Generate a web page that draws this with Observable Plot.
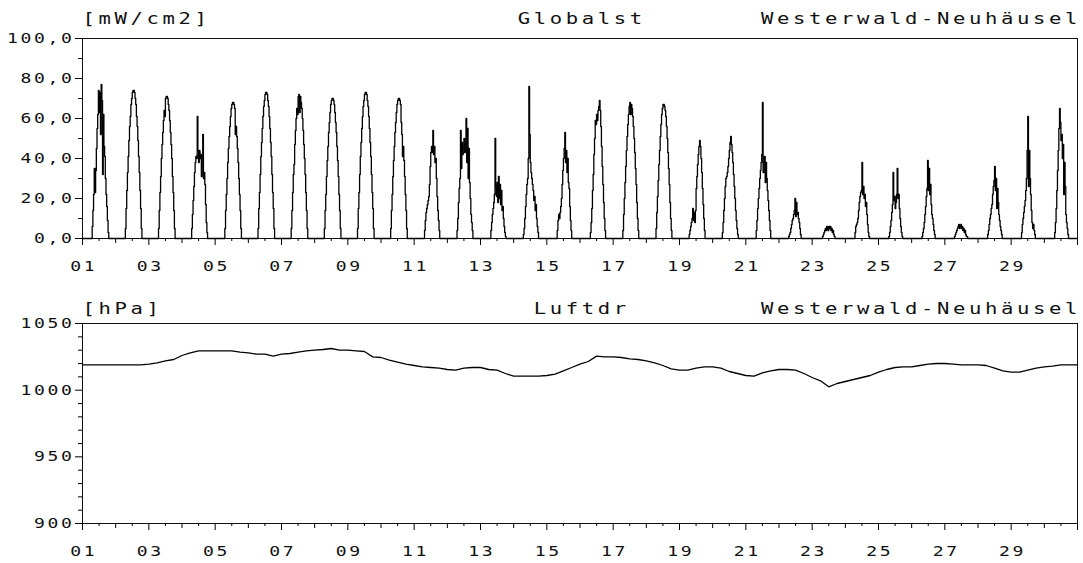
<!DOCTYPE html>
<html>
<head>
<meta charset="utf-8">
<script src="https://cdn.jsdelivr.net/npm/d3@7"></script>
<script src="https://cdn.jsdelivr.net/npm/@observablehq/plot@0.6"></script>
<style>
  html, body { margin: 0; padding: 0; background: #fff; }
  #chart svg { display: block; }
  #chart text { font-family: "DejaVu Sans Mono", "Liberation Mono", monospace; fill: #111; }
  #chart g[aria-label="x-axis tick label"] text,
  #chart g[aria-label="y-axis tick label"] text { font-size: 14.5px; letter-spacing: 2.1px; }
  #chart g[aria-label="text"] text { font-size: 16.5px; letter-spacing: 2.9px; }
</style>
</head>
<body>
<div id="chart"></div>
<script>
// ---------- texts ----------
const station = "Westerwald-Neuhäusel";
const radiationTitle = "Globalst";
const radiationUnit = "[mW/cm2]";
const pressureTitle = "Luftdr";
const pressureUnit = "[hPa]";

// ---------- x axis (days of month) ----------
const dayLabels = ["01","03","05","07","09","11","13","15","17","19","21","23","25","27","29"];
const monthDays = 30;

// ---------- y axes ----------
const radiationTicks = [0, 20, 40, 60, 80, 100];
const radiationMinorTicks = [10, 30, 50, 70, 90];
const pressureTicks = [900, 950, 1000, 1050];
const pressureMinorTicks = [910, 920, 930, 940, 960, 970, 980, 990, 1010, 1020, 1030, 1040];

// ---------- global radiation [mW/cm2], half-hourly 06:30 ... 18:30, one row per day ----------
const radiationFirstHour = 6.5;
const radiationStepHours = 0.5;
const radiation = [
  [0,6,14,22,35,23,34,45,55,62,74,63,73,52,77,69,32,62,46,41,30,22,16,9,3],      // 01
  [0,5,15,24,33,41,49,56,61,67,70,73,74,74,73,70,67,61,56,49,41,33,24,15,5],     // 02
  [0,5,14,23,31,40,47,53,59,64,61,70,71,71,70,67,64,59,53,47,40,31,23,14,5],     // 03
  [0,5,12,19,26,33,38,41,40,61,44,38,44,40,42,31,41,52,30,33,27,17,8,3,0],       // 04
  [0,5,14,22,30,38,45,51,56,61,65,67,68,68,67,65,52,56,51,45,38,30,22,14,5],     // 05
  [0,5,15,23,32,41,48,55,61,66,69,72,73,73,72,69,66,61,55,48,41,32,23,15,5],     // 06
  [0,5,14,23,32,37,47,54,60,65,62,71,72,63,71,68,65,60,54,47,40,32,23,14,5],     // 07
  [0,5,14,22,31,39,46,53,58,63,67,69,70,70,69,67,63,58,53,46,39,31,22,14,5],     // 08
  [0,5,15,23,32,41,48,55,61,66,69,72,73,73,72,69,66,61,55,48,41,32,23,15,5],     // 09
  [0,5,14,22,31,39,46,53,58,63,67,69,70,70,69,67,58,52,41,46,39,31,22,14,5],     // 10
  [0,0,4,9,13,15,17,19,21,27,36,43,46,43,54,42,46,38,40,30,21,14,9,4,0],         // 11
  [0,4,10,18,25,30,54,35,48,42,45,50,43,47,60,38,55,30,45,28,20,12,8,4,0],       // 12
  [0,0,4,8,12,15,18,22,50,26,21,28,18,31,20,27,17,24,14,16,10,6,3,1,0],          // 13
  [0,2,5,10,16,22,27,30,40,76,52,38,33,30,27,24,19,21,14,17,10,6,3,0,0],         // 14
  [0,0,4,9,12,10,13,16,20,27,34,40,45,53,38,44,33,40,28,25,16,9,4,0,0],          // 15
  [0,0,3,8,15,24,32,42,50,59,57,62,59,64,66,69,64,56,46,36,27,18,10,4,0],        // 16
  [0,4,12,20,28,36,44,51,57,62,66,68,62,67,65,61,56,50,43,35,27,18,10,4,0],      // 17
  [0,5,13,21,29,37,44,51,57,62,65,67,67,66,64,61,56,50,43,35,27,18,10,4,0],      // 18
  [0,2,4,6,8,10,15,9,13,8,14,25,31,37,42,46,49,46,40,33,25,17,10,4,0],           // 19
  [0,3,8,14,20,26,30,31,33,36,40,44,48,51,47,43,38,32,26,20,14,9,5,2,0],         // 20
  [0,0,4,9,15,20,25,30,34,38,42,68,33,38,41,28,38,30,24,19,14,9,4,0,0],          // 21
  [0,1,2,3,5,7,9,10,12,14,20,11,18,12,13,10,8,5,2,0,0,0,0,0,0],                  // 22
  [0,0,1,2,3,4,5,4,6,5,4,6,5,6,4,5,3,4,2,1,0,0,0,0,0],                           // 23
  [0,3,6,7,8,10,14,18,21,23,24,38,22,26,20,22,16,18,12,7,3,1,0,0,0],             // 24
  [0,0,1,3,6,9,13,17,33,19,21,15,18,22,35,20,22,15,10,6,3,1,0,0,0],              // 25
  [0,0,1,3,5,8,12,16,21,25,39,24,35,22,27,17,12,10,7,4,2,0,0,0,0],               // 26
  [0,1,2,3,4,5,6,7,5,6,7,5,6,4,5,3,4,2,1,1,0,0,0,0,0],                           // 27
  [0,2,4,7,10,12,15,17,22,26,29,36,24,30,15,25,18,12,9,6,4,2,0,0,0],             // 28
  [0,0,3,7,10,13,16,19,24,30,44,61,26,44,30,22,14,8,5,7,4,2,0,0,0],              // 29
  [0,0,3,8,15,24,34,44,55,65,58,49,52,40,47,22,38,26,12,8,5,2,0,0,0]             // 30
];

// ---------- air pressure [hPa], every 6 hours from day 01 00:00 ----------
const pressureStepDays = 0.25;
const pressure = [
  1019,1019,1019,1019,1019,1019,1019,1019,
  1019.5,1020.5,1022,1023, 1026,1028,1029.5,1029.5, 1029.5,1029.5,1029.5,1028.5,
  1028,1027,1027,1025.5, 1027,1027.5,1028.5,1029.5, 1030,1030.5,1031.25,1030,
  1030,1029.5,1029,1025, 1024.5,1022.5,1021,1019.5, 1018.5,1017.5,1017,1016.5,
  1015.5,1015,1016.5,1017, 1017,1015.5,1015,1012.5, 1010.5,1010.5,1010.5,1010.5,
  1011,1012,1014.5,1017, 1019.5,1021.5,1025.5,1025, 1025,1024.5,1023.5,1023,
  1022,1020.5,1018.5,1016, 1015,1015,1016.5,1017.5, 1017.5,1016.5,1014,1012.5,
  1011,1010.5,1013,1014.5, 1015.5,1015.5,1015,1012.5, 1009.5,1007,1002.5,1005,
  1006.5,1008,1009.5,1011, 1013.5,1015.5,1017,1017.5, 1017.5,1018.5,1019.5,1020,
  1020,1019.5,1019,1019, 1019,1018.5,1016.5,1014.5, 1013.5,1013.5,1015,1016.5,
  1017.5,1018,1019,1019, 1019
];

// ---------- build tables ----------
const radiationRows = [{t: 0, v: 0}];
radiation.forEach((dayValues, d) => {
  dayValues.forEach((v, i) => {
    radiationRows.push({t: d + (radiationFirstHour + i * radiationStepHours) / 24, v});
  });
  radiationRows.push({t: d + (radiationFirstHour + dayValues.length * radiationStepHours) / 24, v: 0});
});
radiationRows.push({t: monthDays, v: 0});

const pressureRows = pressure.map((v, i) => ({t: i * pressureStepDays, v}));

const labelDays = dayLabels.map(s => +s - 1);
const majorDays = [...labelDays, monthDays];
const evenDays = d3.range(1, monthDays, 2);
const halfDays = d3.range(0.5, monthDays, 1);
const labelOf = new Map(labelDays.map((d, i) => [d, dayLabels[i]]));

function panel({rows, yDomain, yTicks, yMinor, yFormat, unit, title, curve, height, marginTop, marginBottom, titleDy}) {
  return Plot.plot({
    width: 1083,
    height,
    marginLeft: 82,
    marginRight: 6,
    marginTop,
    marginBottom,
    x: {domain: [0, monthDays], label: null},
    y: {domain: yDomain, label: null},
    style: {background: "#fff", color: "#000", overflow: "visible"},
    marks: [
      Plot.frame({stroke: "#111", strokeWidth: 1}),
      Plot.line(rows, {x: "t", y: "v", curve, stroke: "#000", strokeWidth: 1.3}),
      Plot.axisX(majorDays, {anchor: "bottom", tickSize: 7, text: null, label: null}),
      Plot.axisX(evenDays, {anchor: "bottom", tickSize: 5, text: null, label: null}),
      Plot.axisX(halfDays, {anchor: "bottom", tickSize: 3, text: null, label: null}),
      Plot.axisX(labelDays, {anchor: "bottom", tickSize: 0, tickPadding: 22.5, dx: 1.3, tickFormat: d => labelOf.get(d), label: null}),
      Plot.axisY(yTicks, {anchor: "left", tickSize: 7, text: null, label: null}),
      Plot.axisY(yMinor, {anchor: "left", tickSize: 4, text: null, label: null}),
      Plot.axisY(yTicks, {anchor: "left", tickSize: 0, tickPadding: 8, tickFormat: yFormat, label: null}),
      Plot.text([unit], {text: d => d, frameAnchor: "top-left", textAnchor: "start", lineAnchor: "bottom", dx: 0, dy: titleDy}),
      Plot.text([title], {text: d => d, frameAnchor: "top", textAnchor: "middle", lineAnchor: "bottom", dx: 1.8, dy: titleDy}),
      Plot.text([station], {text: d => d, frameAnchor: "top-right", textAnchor: "end", lineAnchor: "bottom", dx: 3.6, dy: titleDy})
    ]
  });
}

// widen the glyphs to a fixed character pitch, like the plotter font of the original
function widenText(svg) {
  svg.querySelectorAll("text").forEach(el => {
    const g = el.closest("g[aria-label]");
    const kind = g ? g.getAttribute("aria-label") : "";
    const pitch = kind === "text" ? 16 : 13.5;
    const n = Array.from(el.textContent).length;
    if (n > 0) {
      el.setAttribute("textLength", n * pitch);
      el.setAttribute("lengthAdjust", "spacingAndGlyphs");
    }
  });
  return svg;
}

const radiationChart = panel({
  rows: radiationRows,
  yDomain: [0, 100],
  yTicks: radiationTicks,
  yMinor: radiationMinorTicks,
  yFormat: v => v.toFixed(1).replace(".", ","),
  unit: radiationUnit,
  title: radiationTitle,
  curve: "step-after",
  height: 283,
  marginTop: 38,
  marginBottom: 45,
  titleDy: -15
});

const pressureChart = panel({
  rows: pressureRows,
  yDomain: [900, 1050],
  yTicks: pressureTicks,
  yMinor: pressureMinorTicks,
  yFormat: v => String(v),
  unit: pressureUnit,
  title: pressureTitle,
  curve: "linear",
  height: 280,
  marginTop: 40,
  marginBottom: 40,
  titleDy: -10
});

document.getElementById("chart").append(widenText(radiationChart), widenText(pressureChart));
</script>
</body>
</html>
